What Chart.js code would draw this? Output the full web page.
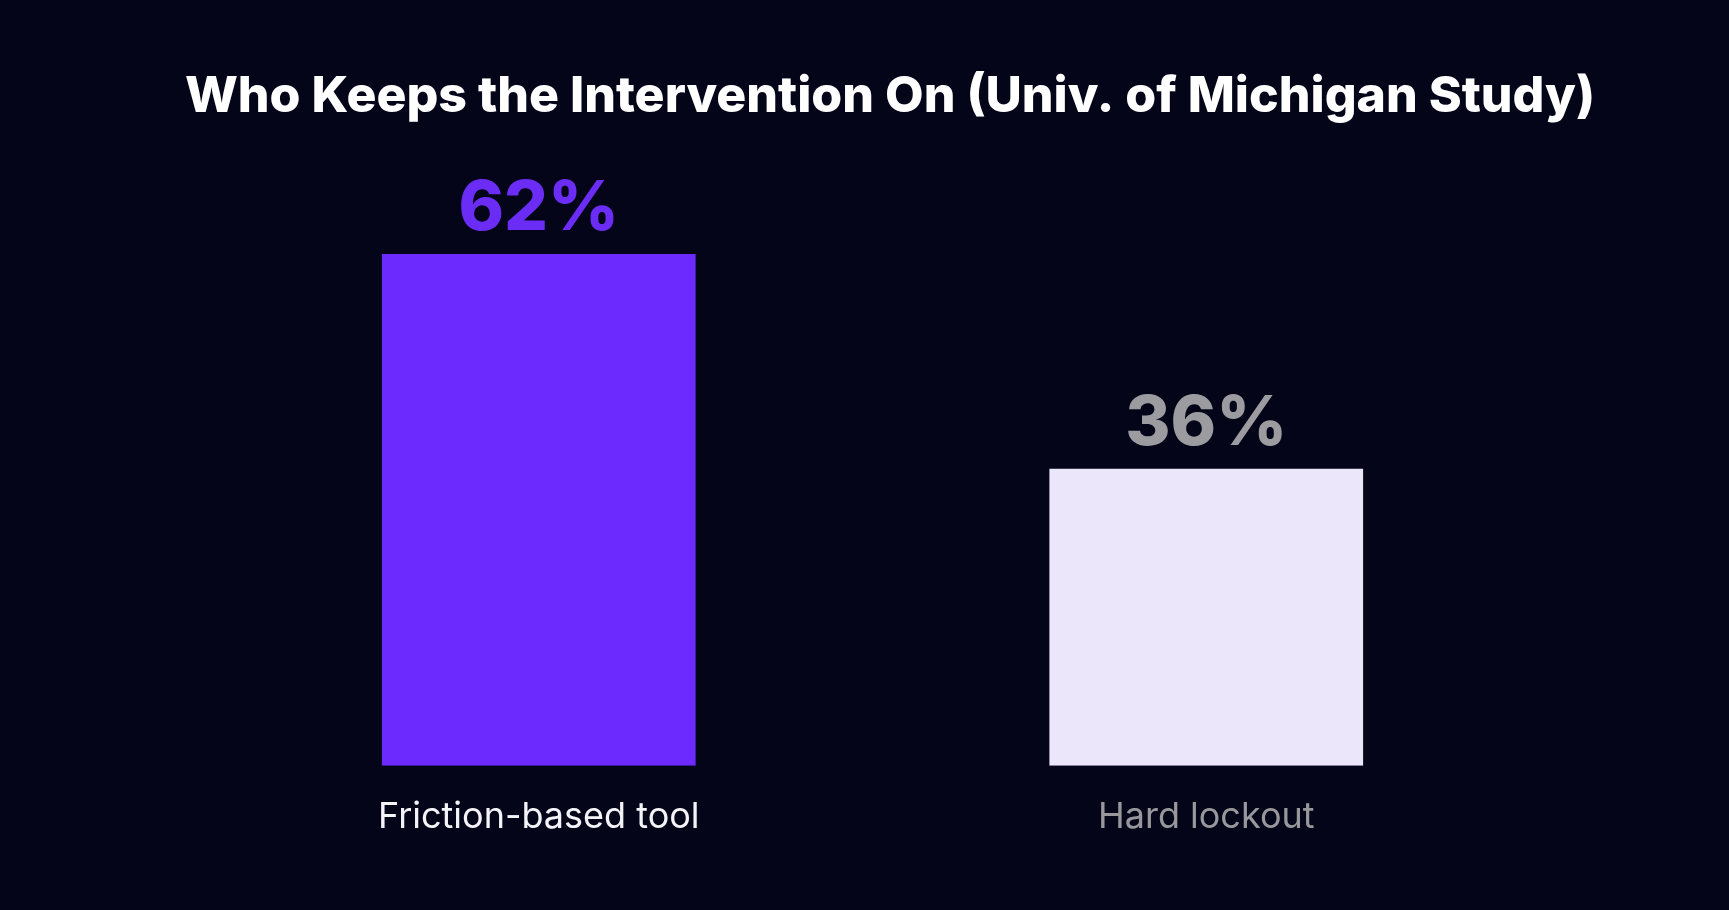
<!DOCTYPE html>
<html>
<head>
<meta charset="utf-8">
<script src="https://cdn.jsdelivr.net/npm/chart.js@4"></script>
<style>
  html, body { margin: 0; padding: 0; background: #05051a; }
  #wrap { width: 1729px; height: 910px; }
</style>
</head>
<body>
<div id="wrap"><canvas id="chart"></canvas></div>
<script>
const categories = ['Friction-based tool', 'Hard lockout'];
const values = [62, 36];
const valueLabels = ['62%', '36%'];
const barColors = ['#6c2aff', '#ece6fb'];
const valueColors = ['#6b2cf6', '#9c9ca0'];
const tickColors = ['#f4f4f8', '#98989c'];
const titleText = 'Who Keeps the Intervention On (Univ. of Michigan Study)';

// draws the big percentage above each bar
const valueLabelPlugin = {
    id: 'valueLabels',
    afterDatasetsDraw(chart) {
        const ctx = chart.ctx;
        const meta = chart.getDatasetMeta(0);
        ctx.save();
        ctx.font = '800 69px Inter';
        ctx.textAlign = 'center';
        ctx.textBaseline = 'alphabetic';
        meta.data.forEach(function(bar, i) {
            ctx.fillStyle = valueColors[i];
            ctx.fillText(valueLabels[i], bar.x, bar.y - 24);
        });
        ctx.restore();
    }
};

const ctx = document.getElementById('chart').getContext('2d');
const chart = new Chart(ctx, {
    type: 'bar',
    data: {
        labels: categories,
        datasets: [{
            data: values,
            backgroundColor: barColors,
            borderWidth: 0,
            barPercentage: 0.47,
            categoryPercentage: 1
        }]
    },
    options: {
        responsive: true,
        maintainAspectRatio: false,
        animation: false,
        layout: {
            padding: { top: 67, bottom: 41, left: 128, right: 77 }
        },
        scales: {
            x: {
                grid: { display: false, drawTicks: false },
                border: { display: false },
                ticks: {
                    padding: 30,
                    font: { family: 'Inter', size: 36, weight: '400' },
                    color: (c) => tickColors[c.index]
                }
            },
            y: {
                min: 0,
                max: 70,
                grid: { display: false },
                border: { display: false },
                ticks: { display: false },
                afterFit: (scale) => { scale.width = 77; }
            },
            y2: {
                position: 'right',
                min: 0,
                max: 70,
                grid: { display: false },
                border: { display: false },
                ticks: { display: false },
                afterFit: (scale) => { scale.width = 112; }
            }
        },
        plugins: {
            legend: { display: false },
            tooltip: { enabled: false },
            title: {
                display: true,
                text: titleText,
                color: '#ffffff',
                font: { family: 'Inter', size: 50, weight: '800' },
                padding: { top: 0, bottom: 61 }
            }
        }
    },
    plugins: [valueLabelPlugin]
});
</script>
</body>
</html>
